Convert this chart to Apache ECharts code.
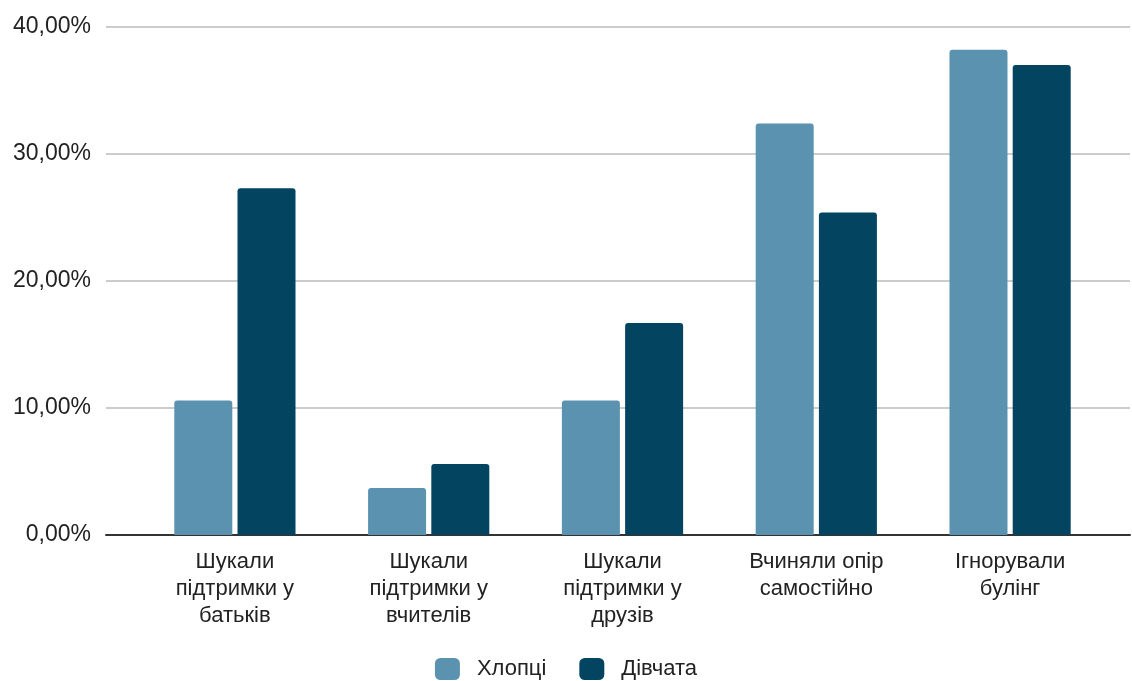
<!DOCTYPE html>
<html>
<head>
<meta charset="utf-8">
<script src="https://cdn.jsdelivr.net/npm/echarts@6/dist/echarts.min.js"></script>
<style>
  html, body { margin: 0; padding: 0; background: #ffffff; }
  #chart { width: 1132px; height: 681px; }
</style>
</head>
<body>
<div id="chart"></div>
<script>
const categories = [
  'Шукали\nпідтримки у\nбатьків',
  'Шукали\nпідтримки у\nвчителів',
  'Шукали\nпідтримки у\nдрузів',
  'Вчиняли опір\nсамостійно',
  'Ігнорували\nбулінг'
];
const seriesNames = ['Хлопці', 'Дівчата'];
const boys = [10.6, 3.7, 10.6, 32.4, 38.2];
const girls = [27.3, 5.6, 16.7, 25.4, 37.0];
const yTicks = [0, 10, 20, 30, 40];

const colors = ['#5a92b0', '#034561'];
const fontFamily = '"Liberation Sans", Arial, sans-serif';

const chart = echarts.init(document.getElementById('chart'));
chart.setOption({
  animation: false,
  backgroundColor: '#ffffff',
  textStyle: { fontFamily: fontFamily },
  legend: {
    top: 653,
    left: 'center',
    itemWidth: 25,
    itemHeight: 22,
    itemGap: 33,
    icon: 'roundRect',
    textStyle: { fontSize: 22, color: '#222222', fontFamily: fontFamily, padding: [0, 0, 0, 12] },
    data: seriesNames
  },
  grid: [
    { left: 106, right: 2, top: 27, bottom: 146 },
    { left: 138, right: 25, top: 27, bottom: 146 }
  ],
  xAxis: [
    {
      gridIndex: 0, type: 'value', min: 0, max: 1,
      axisLine: { show: true, lineStyle: { color: '#333333', width: 2 } },
      axisTick: { show: false }, axisLabel: { show: false }, splitLine: { show: false }
    },
    {
      gridIndex: 1, type: 'category', data: categories,
      axisLine: { show: false }, axisTick: { show: false },
      axisLabel: {
        interval: 0,
        margin: 13,
        fontSize: 22,
        lineHeight: 27,
        color: '#222222',
        fontFamily: fontFamily
      }
    }
  ],
  yAxis: [
    {
      gridIndex: 0, type: 'value', min: 0, max: 40, interval: 10,
      axisLine: { show: false }, axisTick: { show: false },
      axisLabel: {
        margin: 15, fontSize: 23, color: '#222222', fontFamily: fontFamily,
        padding: [5, 0, 0, 0],
        formatter: v => yTicks.includes(v) ? v.toFixed(2).replace('.', ',') + '%' : ''
      },
      splitLine: { lineStyle: { color: '#cccccc', width: 2 } }
    },
    {
      gridIndex: 1, type: 'value', min: 0, max: 40, interval: 10,
      show: false
    }
  ],
  series: [
    {
      name: seriesNames[0], type: 'bar', xAxisIndex: 1, yAxisIndex: 1,
      data: boys, barWidth: 58, barGap: '9%',
      itemStyle: { color: colors[0], borderRadius: [3, 3, 0, 0] }
    },
    {
      name: seriesNames[1], type: 'bar', xAxisIndex: 1, yAxisIndex: 1,
      data: girls, barWidth: 58, barGap: '9%',
      itemStyle: { color: colors[1], borderRadius: [3, 3, 0, 0] }
    }
  ]
});
</script>
</body>
</html>
